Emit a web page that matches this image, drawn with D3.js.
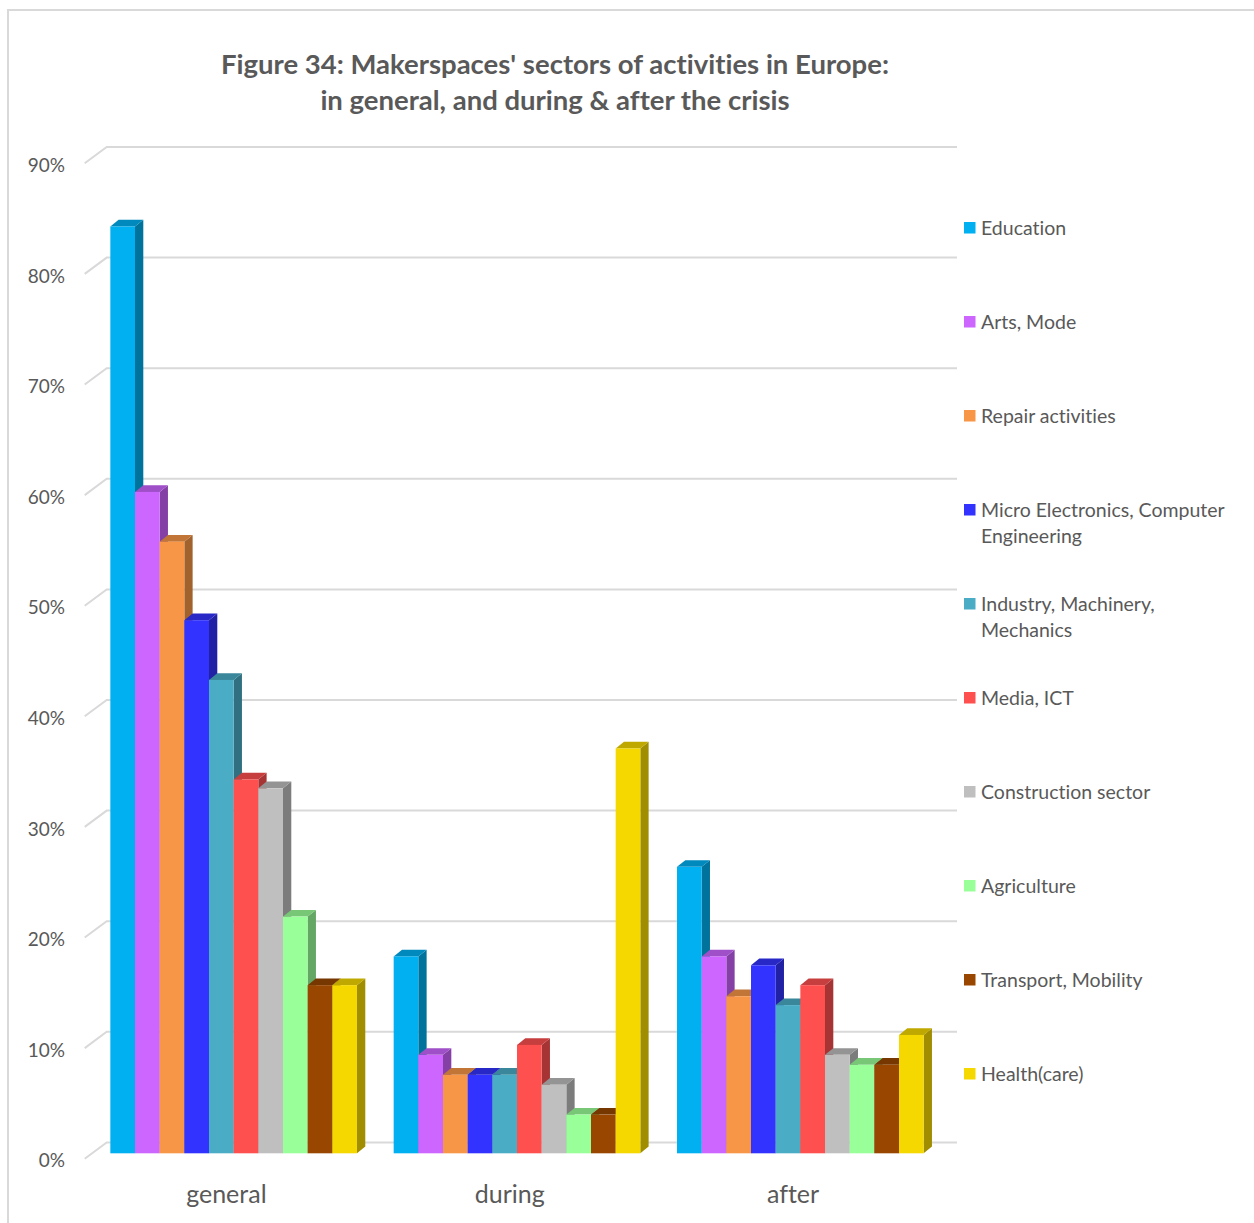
<!DOCTYPE html>
<html>
<head>
<meta charset="utf-8">
<script src="https://cdn.jsdelivr.net/npm/d3@7"></script>
<style>
  html, body { margin: 0; padding: 0; background: #fff; }
  svg { display: block; }
  text { font-family: Lato, "Open Sans", sans-serif; fill: #595959; font-variant-ligatures: none; }
</style>
</head>
<body>
<svg id="chart" width="1254" height="1223"></svg>
<script>
// Periods on the x axis
const periods = ["general", "during", "after"];

// Sectors (series), in drawing order
const sectors = [
  "Education",
  "Arts, Mode",
  "Repair activities",
  "Micro Electronics, Computer Engineering",
  "Industry, Machinery, Mechanics",
  "Media, ICT",
  "Construction sector",
  "Agriculture",
  "Transport, Mobility",
  "Health(care)"
];

// Legend lines (wrapped labels)
const legendLines = [
  ["Education"],
  ["Arts, Mode"],
  ["Repair activities"],
  ["Micro Electronics, Computer", "Engineering"],
  ["Industry, Machinery,", "Mechanics"],
  ["Media, ICT"],
  ["Construction sector"],
  ["Agriculture"],
  ["Transport, Mobility"],
  ["Health(care)"]
];

// Share of makerspaces per sector, one array per period
const generalValues = [0.838, 0.598, 0.553, 0.482, 0.428, 0.338, 0.330, 0.214, 0.152, 0.152];
const duringValues  = [0.178, 0.089, 0.071, 0.071, 0.071, 0.098, 0.062, 0.035, 0.035, 0.366];
const afterValues   = [0.259, 0.178, 0.142, 0.170, 0.134, 0.152, 0.089, 0.080, 0.080, 0.107];

// Axis ticks
const yTicks = [0, 0.1, 0.2, 0.3, 0.4, 0.5, 0.6, 0.7, 0.8, 0.9];

// Front, side and top colours of each sector
const frontColors = ["#00B0F0", "#CC66FF", "#F79646", "#3333FF", "#4BACC6", "#FF5050", "#BFBFBF", "#99FF99", "#994700", "#F5D800"];
const sideColors  = ["#00739C", "#8540A6", "#A1622E", "#2121A6", "#317081", "#A63434", "#7C7C7C", "#64A664", "#632E00", "#A08D00"];
const topColors   = ["#0089BC", "#9F4FC7", "#C17536", "#2828C7", "#3A869A", "#C73E3E", "#949494", "#77C777", "#773700", "#BFA900"];

const valuesByPeriod = [generalValues, duringValues, afterValues];

const svg = d3.select("#chart");

// outer frame
svg.append("path")
  .attr("d", "M8,1223 V10 H1254")
  .attr("fill", "none")
  .attr("stroke", "#d9d9d9")
  .attr("stroke-width", 2);

// Title
const title = svg.append("text")
  .attr("text-anchor", "middle")
  .attr("font-weight", "bold")
  .attr("font-size", 27.5);
title.append("tspan").attr("x", 555).attr("y", 74).text("Figure 34: Makerspaces' sectors of activities in Europe:");
title.append("tspan").attr("x", 555).attr("y", 110).text("in general, and during & after the crisis");

// Oblique 3D geometry
const frontBottom = 1153.3;       // baseline of the bar fronts
const depth = { dx: 8.3, dy: -6.7 };     // bar depth
const wall = { dx: 14.7, dy: -10.9 };    // back wall relative to bar fronts
const edge = { dx: -7.3, dy: 5.4 };      // front floor edge relative to bar fronts

const y = d3.scaleLinear().domain([0, 0.9]).range([frontBottom, frontBottom - 9 * 110.6]);

const x = d3.scaleBand()
  .domain(periods)
  .range([92, 942])
  .paddingInner(0.1295)
  .paddingOuter(0.0647);

const xs = d3.scaleBand()
  .domain(sectors)
  .range([0, x.bandwidth()]);

// Gridlines on back wall plus side-wall diagonals
const wallLeft = x.range()[0] + wall.dx;
const wallRight = 957;
const sideLeft = x.range()[0] + edge.dx;
const grid = svg.append("g");
yTicks.forEach(t => {
  const yb = y(t) + wall.dy;
  const yf = y(t) + edge.dy;
  grid.append("path")
    .attr("d", `M${sideLeft},${yf} L${wallLeft},${yb} H${wallRight}`)
    .attr("fill", "none")
    .attr("stroke", "#d9d9d9")
    .attr("stroke-width", 2);
  svg.append("text")
    .attr("x", 65)
    .attr("y", yf + 2)
    .attr("dy", "0.35em")
    .attr("text-anchor", "end")
    .attr("font-size", 19)
    .text(d3.format(".0%")(t));
});

// Bars
const bars = svg.append("g");
periods.forEach((p, pi) => {
  const vals = valuesByPeriod[pi];
  sectors.forEach((s, si) => {
    const x0 = x(p) + xs(s);
    const w = xs.bandwidth();
    const yt = y(vals[si]);
    const yb = y(0);
    const g = bars.append("g");
    // side face
    g.append("path")
      .attr("d", `M${x0 + w},${yt} L${x0 + w + depth.dx},${yt + depth.dy} L${x0 + w + depth.dx},${yb + depth.dy} L${x0 + w},${yb} Z`)
      .attr("fill", sideColors[si]);
    // top face
    g.append("path")
      .attr("d", `M${x0},${yt} L${x0 + depth.dx},${yt + depth.dy} L${x0 + w + depth.dx},${yt + depth.dy} L${x0 + w},${yt} Z`)
      .attr("fill", topColors[si]);
    // front face
    g.append("rect")
      .attr("x", x0)
      .attr("y", yt)
      .attr("width", w)
      .attr("height", yb - yt)
      .attr("fill", frontColors[si]);
  });
});

// Category labels
periods.forEach(p => {
  svg.append("text")
    .attr("x", x(p) + x.bandwidth() / 2 + edge.dx)
    .attr("y", 1194)
    .attr("dy", "0.35em")
    .attr("text-anchor", "middle")
    .attr("font-size", 25)
    .text(p);
});

// Legend
const legend = svg.append("g");
legendLines.forEach((lines, i) => {
  const cy = 228 + i * 94;
  legend.append("rect")
    .attr("x", 964)
    .attr("y", cy - 6)
    .attr("width", 11.5)
    .attr("height", 11.5)
    .attr("fill", frontColors[i]);
  lines.forEach((ln, j) => {
    legend.append("text")
      .attr("x", 981)
      .attr("y", cy + j * 26)
      .attr("dy", "0.35em")
      .attr("font-size", 19.5)
      .text(ln);
  });
});
</script>
</body>
</html>
